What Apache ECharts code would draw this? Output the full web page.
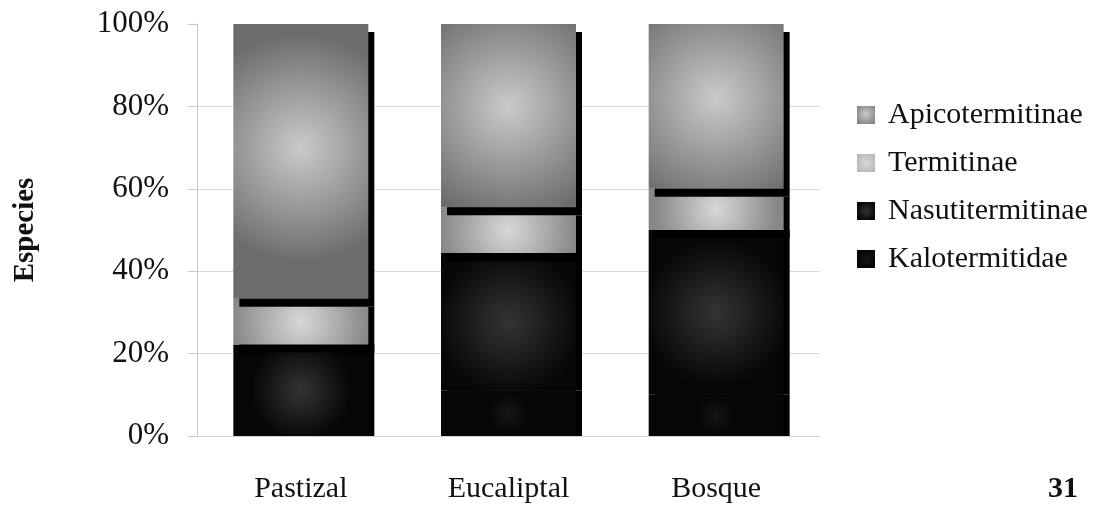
<!DOCTYPE html>
<html>
<head>
<meta charset="utf-8">
<title>Especies por subfamilia</title>
<script src="https://cdn.jsdelivr.net/npm/echarts@6/dist/echarts.min.js"></script>
<style>
  html, body { margin: 0; padding: 0; background: #ffffff; }
  #chart { width: 1113px; height: 508px; }
</style>
</head>
<body>
<div id="chart"></div>
<script>
// Habitat types along the x axis
const categories = ['Pastizal', 'Eucaliptal', 'Bosque'];

// Share of species (%) per termite group, per habitat
const kalotermitidae   = [0, 11.1, 10];
const nasutitermitinae = [22.2, 33.3, 40];
const termitinae       = [11.1, 11.1, 10];
const apicotermitinae  = [66.7, 44.5, 40];

// Y axis ticks
const yTicks = [0, 20, 40, 60, 80, 100];

// Legend order, top to bottom
const legendOrder = ['Apicotermitinae', 'Termitinae', 'Nasutitermitinae', 'Kalotermitidae'];

const serif = "'Liberation Serif', 'Times New Roman', 'DejaVu Serif', serif";

function radial(inner, outer, r, cy) {
  return {
    type: 'radial', x: 0.5, y: cy, r: r,
    colorStops: [{ offset: 0, color: inner }, { offset: 1, color: outer }]
  };
}

const chart = echarts.init(document.getElementById('chart'), null, { renderer: 'canvas' });

// Drop shadow: right edge plus a band cast below the lighter segments
const topShadow = { shadowColor: '#000', shadowBlur: 0, shadowOffsetX: 6, shadowOffsetY: 8 };
const sideShadow = { shadowColor: '#000', shadowBlur: 0, shadowOffsetX: 6, shadowOffsetY: 0 };

function barSeries(name, data, fill, shadow) {
  return {
    name: name,
    type: 'bar',
    stack: 'total',
    data: data,
    barCategoryGap: '35%',
    itemStyle: Object.assign({ color: fill }, shadow),
    emphasis: { disabled: true }
  };
}

chart.setOption({
  backgroundColor: '#ffffff',
  animation: false,
  grid: { left: 197, right: 293, top: 24, bottom: 72, outerBoundsMode: 'none' },
  legend: {
    data: legendOrder,
    orient: 'vertical',
    left: 852,
    top: 94,
    itemWidth: 18,
    itemHeight: 18,
    itemGap: 16,
    icon: 'rect',
    selectedMode: false,
    itemStyle: { shadowBlur: 0, shadowOffsetX: 0, shadowOffsetY: 0, shadowColor: 'rgba(0,0,0,0)' },
    textStyle: {
      fontFamily: serif, fontSize: 30, color: '#111', lineHeight: 32,
      padding: [0, 0, 0, 8]
    }
  },
  xAxis: {
    type: 'category',
    data: categories,
    axisLine: { show: true, lineStyle: { color: '#d4d4d4', width: 1 } },
    axisTick: { show: false },
    axisLabel: { fontFamily: serif, fontSize: 30, color: '#111', margin: 38 }
  },
  yAxis: {
    type: 'value',
    min: yTicks[0],
    max: yTicks[yTicks.length - 1],
    interval: yTicks[1] - yTicks[0],
    name: 'Especies',
    nameLocation: 'middle',
    nameRotate: 90,
    nameGap: 157,
    nameTextStyle: { fontFamily: serif, fontSize: 29, fontWeight: 'bold', color: '#111' },
    axisLine: { show: true, lineStyle: { color: '#c8c8c8', width: 1 } },
    axisTick: { show: true, inside: false, length: 9, lineStyle: { color: '#c8c8c8' } },
    axisLabel: { fontFamily: serif, fontSize: 31, color: '#111', margin: 28, formatter: '{value}%' },
    splitLine: { show: true, showMaxLine: false, lineStyle: { color: '#d9d9d9', width: 1 } }
  },
  graphic: [{
    type: 'text',
    left: 1048,
    top: 474,
    style: { text: '31', fontFamily: serif, fontSize: 30, fontWeight: 'bold', fill: '#111' }
  }],
  series: [
    barSeries('Kalotermitidae', kalotermitidae, radial('#161616', '#060606', 0.45, 0.5), sideShadow),
    barSeries('Nasutitermitinae', nasutitermitinae, radial('#343434', '#060606', 0.55, 0.5), sideShadow),
    barSeries('Termitinae', termitinae, radial('#d8d8d8', '#878787', 1.5, 0.5), topShadow),
    barSeries('Apicotermitinae', apicotermitinae, radial('#cacaca', '#6c6c6c', 0.85, 0.45), topShadow)
  ]
});
</script>
</body>
</html>
